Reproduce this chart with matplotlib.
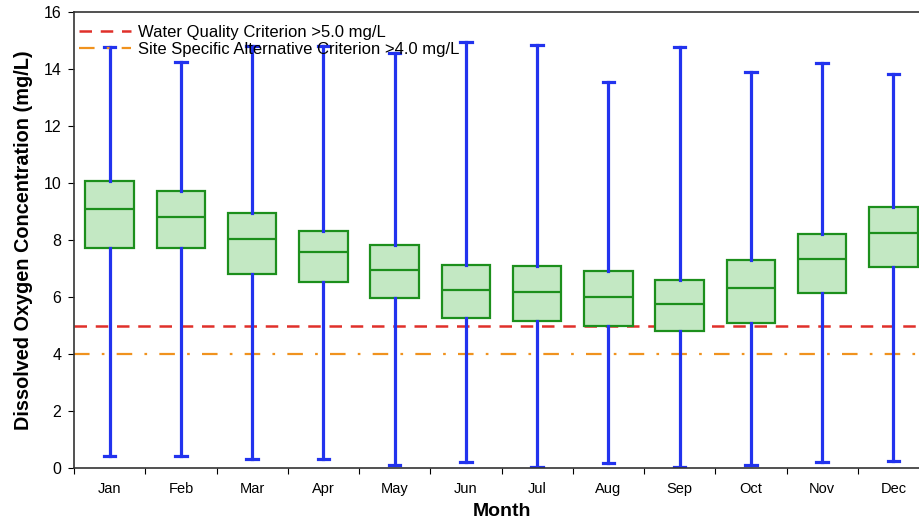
"""Monthly dissolved oxygen box plot with water quality criteria."""

import matplotlib
matplotlib.use("Agg")
import matplotlib.pyplot as plt

plt.rcParams["font.family"] = ["Liberation Sans", "DejaVu Sans"]

MONTHS = ["Jan", "Feb", "Mar", "Apr", "May", "Jun",
          "Jul", "Aug", "Sep", "Oct", "Nov", "Dec"]
WHISKER_LOW = [0.42, 0.42, 0.32, 0.32, 0.10, 0.20, 0.03, 0.18, 0.03, 0.10, 0.20, 0.25]
Q1 = [7.72, 7.72, 6.81, 6.53, 5.96, 5.26, 5.16, 4.98, 4.80, 5.09, 6.14, 7.05]
MEDIAN = [9.09, 8.81, 8.04, 7.58, 6.95, 6.25, 6.18, 6.00, 5.75, 6.32, 7.33, 8.25]
Q3 = [10.07, 9.72, 8.95, 8.32, 7.82, 7.12, 7.09, 6.91, 6.60, 7.30, 8.21, 9.16]
WHISKER_HIGH = [14.77, 14.25, 14.8, 14.8, 14.55, 14.95, 14.84, 13.54, 14.77, 13.90, 14.20, 13.82]

CRITERION = 5.0
SITE_CRITERION = 4.0


def build_stats():
    stats = []
    for i, month in enumerate(MONTHS):
        stats.append({
            "label": month,
            "whislo": WHISKER_LOW[i],
            "q1": Q1[i],
            "med": MEDIAN[i],
            "q3": Q3[i],
            "whishi": WHISKER_HIGH[i],
            "fliers": [],
        })
    return stats


def main():
    fig = plt.figure(figsize=(9.2, 5.24), dpi=100)
    ax = fig.add_axes([74 / 920, 56 / 524, 855 / 920, 456 / 524])

    positions = list(range(len(MONTHS)))
    ax.bxp(
        build_stats(),
        positions=positions,
        widths=0.68,
        patch_artist=True,
        showfliers=False,
        boxprops=dict(facecolor="#c3e8c3", edgecolor="#1c8f1c", linewidth=1.6),
        medianprops=dict(color="#1c8f1c", linewidth=1.6),
        whiskerprops=dict(color="#2233ee", linewidth=2.3),
        capprops=dict(color="#2233ee", linewidth=2.3),
        capwidths=0.16,
        zorder=2,
    )

    ax.axhline(CRITERION, color="#e0302a", linestyle=(0, (5, 3.5)), linewidth=1.8,
               label="Water Quality Criterion >5.0 mg/L", zorder=1)
    ax.axhline(SITE_CRITERION, color="#f0921e", linestyle=(0, (7, 5.5, 1.2, 5.5)), linewidth=1.6,
               label="Site Specific Alternative Criterion >4.0 mg/L", zorder=1)

    ax.set_xlim(-0.5, len(MONTHS) - 0.5)
    ax.set_ylim(0, 16)
    ax.set_yticks(range(0, 17, 2))
    ax.tick_params(axis="y", labelsize=11.5, direction="out", length=4, pad=5)

    # month labels sit between the boundary ticks
    ax.set_xticks([p - 0.5 for p in positions] + [len(MONTHS) - 0.5])
    ax.set_xticklabels([])
    ax.set_xticks(positions, minor=True)
    ax.set_xticklabels(MONTHS, minor=True, fontsize=10.5)
    ax.tick_params(axis="x", which="minor", length=0, pad=10)
    ax.tick_params(axis="x", which="major", direction="out", length=4)

    ax.set_xlabel("Month", fontsize=14, fontweight="bold", labelpad=5)
    ax.set_ylabel("Dissolved Oxygen Concentration (mg/L)", fontsize=14.3,
                  fontweight="bold", labelpad=8)

    for spine in ax.spines.values():
        spine.set_color("#333333")
        spine.set_linewidth(1.2)

    ax.legend(loc="upper left", bbox_to_anchor=(0, 1 - 8 / 456), frameon=False,
              fontsize=12, handlelength=3.1, borderaxespad=0.0, borderpad=0.3,
              labelspacing=0.12, handletextpad=0.45)

    fig.savefig("out.png", dpi=100)
    plt.close(fig)


if __name__ == "__main__":
    main()
